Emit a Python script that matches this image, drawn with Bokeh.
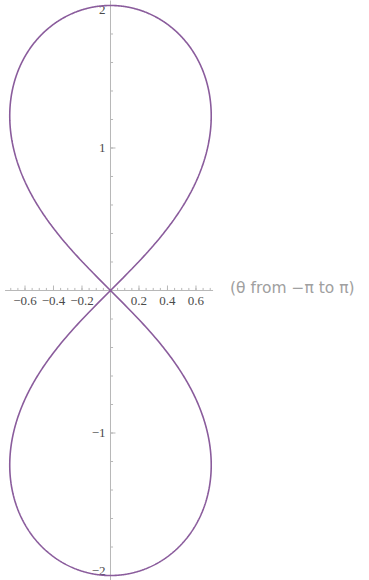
import numpy as np
from bokeh.plotting import figure
from bokeh.models import ColumnDataSource, Range1d
from bokeh.core.properties import value
from bokeh.embed import file_html
from bokeh.resources import INLINE

# Lemniscate r^2 = -a^2 cos(2θ), θ from -π to π (real branch only)
a = 2.0
theta_lo, theta_hi = -np.pi, np.pi

# axis ticks and labels
x_major = [-0.6, -0.4, -0.2, 0.2, 0.4, 0.6]
x_labels = ["\u22120.6", "\u22120.4", "\u22120.2", "0.2", "0.4", "0.6"]
y_major = [2, 1, -1, -2]
y_labels = ["2", "1", "\u22121", "\u22122"]
y_label_nudge = [5, 0, 0, -5]  # keep the end labels inside the frame
x_minor_step = 0.05
y_minor_step = 0.2
x_axis_extent = (-0.74, 0.72)
y_axis_extent = (-2.1, 2.1)
axis_caption = "(\u03b8 from \u2212\u03c0 to \u03c0)"

CURVE = "#8a5c9c"
AXIS = "#b8b8b8"
LABEL = "#4a4a4a"

p = figure(width=369, height=580, output_backend="svg", toolbar_location=None,
           x_range=Range1d(-0.772, 1.818), y_range=Range1d(-2.035, 2.035),
           min_border=0, outline_line_color=None)
p.axis.visible = False
p.grid.visible = False
p.background_fill_color = "white"
p.border_fill_color = "white"

# axes through the origin
p.segment(x0=[x_axis_extent[0], 0], y0=[0, y_axis_extent[0]],
          x1=[x_axis_extent[1], 0], y1=[0, y_axis_extent[1]],
          line_color=AXIS, line_width=1)

# x minor and major ticks (pointing up)
xm = np.round(np.arange(-0.7, 0.7001, x_minor_step), 3)
xm = xm[xm != 0]
p.segment(x0=xm, y0=np.zeros_like(xm), x1=xm, y1=np.full_like(xm, 0.018),
          line_color=AXIS, line_width=1)
p.segment(x0=x_major, y0=[0] * len(x_major), x1=x_major, y1=[0.035] * len(x_major),
          line_color=AXIS, line_width=1)

# y minor and major ticks (pointing right)
ym = np.round(np.arange(-2.0, 2.0001, y_minor_step), 3)
ym = ym[ym != 0]
p.segment(x0=np.zeros_like(ym), y0=ym, x1=np.full_like(ym, 0.018), y1=ym,
          line_color=AXIS, line_width=1)
p.segment(x0=[0] * len(y_major), y0=y_major, x1=[0.035] * len(y_major), y1=y_major,
          line_color=AXIS, line_width=1)

# tick labels
p.text(x=x_major, y=[0] * len(x_major), text=x_labels, y_offset=6,
       text_align="center", text_baseline="top", text_font=value("Liberation Serif"),
       text_font_size="13px", text_color=LABEL)
ysrc = ColumnDataSource(data=dict(x=[0] * len(y_major), y=y_major, text=y_labels,
                                  dy=y_label_nudge))
p.text(x="x", y="y", text="text", y_offset="dy", source=ysrc, x_offset=-5,
       text_align="right", text_baseline="middle", text_font=value("Liberation Serif"),
       text_font_size="13px", text_color=LABEL)

# caption to the right of the horizontal axis
p.text(x=[x_axis_extent[1]], y=[0], text=[axis_caption], x_offset=17, y_offset=-3,
       text_align="left", text_baseline="middle", text_font=value("DejaVu Sans"),
       text_font_size="15.5px", text_color="#a0a0a0")

# the curve: two loops where cos(2θ) <= 0
xs, ys = [], []
for t0, t1 in [(-3 * np.pi / 4, -np.pi / 4), (np.pi / 4, 3 * np.pi / 4)]:
    t = np.linspace(t0, t1, 800)
    r = a * np.sqrt(np.clip(-np.cos(2 * t), 0, None))
    xs.append(r * np.cos(t))
    ys.append(r * np.sin(t))
src = ColumnDataSource(data=dict(xs=xs, ys=ys))
p.multi_line(xs="xs", ys="ys", source=src, line_color=CURVE, line_width=1.6)

open("out.html", "w").write(file_html(p, INLINE))
